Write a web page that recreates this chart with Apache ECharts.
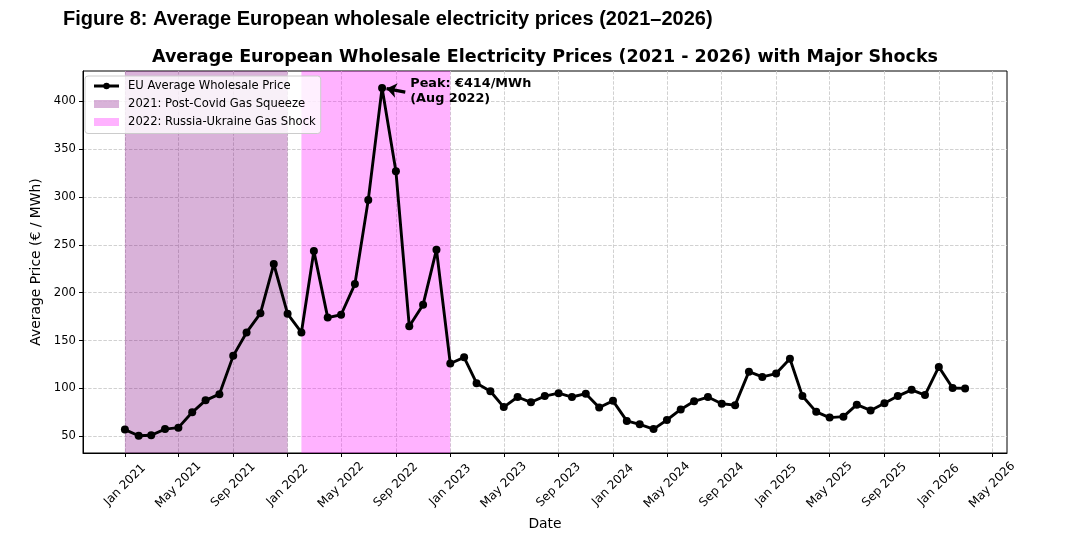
<!DOCTYPE html>
<html>
<head>
<meta charset="utf-8">
<title>Average European wholesale electricity prices</title>
<script src="https://cdn.jsdelivr.net/npm/echarts@6/dist/echarts.min.js"></script>
<style>
  html, body { margin: 0; padding: 0; background: #fff; }
  #chart { width: 1077px; height: 540px; }
</style>
</head>
<body>
<div id="chart"></div>
<script>
// monthly dates, first of month
var months = [
    '2021-01-01', '2021-02-01', '2021-03-01', '2021-04-01', '2021-05-01', '2021-06-01',
    '2021-07-01', '2021-08-01', '2021-09-01', '2021-10-01', '2021-11-01', '2021-12-01',
    '2022-01-01', '2022-02-01', '2022-03-01', '2022-04-01', '2022-05-01', '2022-06-01',
    '2022-07-01', '2022-08-01', '2022-09-01', '2022-10-01', '2022-11-01', '2022-12-01',
    '2023-01-01', '2023-02-01', '2023-03-01', '2023-04-01', '2023-05-01', '2023-06-01',
    '2023-07-01', '2023-08-01', '2023-09-01', '2023-10-01', '2023-11-01', '2023-12-01',
    '2024-01-01', '2024-02-01', '2024-03-01', '2024-04-01', '2024-05-01', '2024-06-01',
    '2024-07-01', '2024-08-01', '2024-09-01', '2024-10-01', '2024-11-01', '2024-12-01',
    '2025-01-01', '2025-02-01', '2025-03-01', '2025-04-01', '2025-05-01', '2025-06-01',
    '2025-07-01', '2025-08-01', '2025-09-01', '2025-10-01', '2025-11-01', '2025-12-01',
    '2026-01-01', '2026-02-01', '2026-03-01'
];

// EUR / MWh
var prices = [
    57, 50.5, 51, 57.5, 59, 75, 87.5, 94, 134, 158.5, 178.5, 230,
    178, 158.5, 243.5, 174, 177, 209, 297, 414, 327, 165, 187.5, 245,
    126, 132.5, 105.5, 97, 80.5, 91, 85.5, 92, 95, 91, 94.5, 80,
    87, 66, 62.5, 57.5, 67, 78, 86.5, 91, 84, 82.5, 117.5, 112,
    115.5, 131, 92, 75.5, 69.5, 70.5, 83, 77, 84.5, 92, 98.5, 93,
    122.5, 100.5, 100
];

var xTickDates = [
    '2021-01-01', '2021-05-01', '2021-09-01', '2022-01-01', '2022-05-01', '2022-09-01',
    '2023-01-01', '2023-05-01', '2023-09-01', '2024-01-01', '2024-05-01', '2024-09-01',
    '2025-01-01', '2025-05-01', '2025-09-01', '2026-01-01', '2026-05-01'
];
var xTickLabels = [
    'Jan 2021', 'May 2021', 'Sep 2021', 'Jan 2022', 'May 2022', 'Sep 2022',
    'Jan 2023', 'May 2023', 'Sep 2023', 'Jan 2024', 'May 2024', 'Sep 2024',
    'Jan 2025', 'May 2025', 'Sep 2025', 'Jan 2026', 'May 2026'
];
var yTicks = [50, 100, 150, 200, 250, 300, 350, 400];

var shockNames = ['2021: Post-Covid Gas Squeeze', '2022: Russia-Ukraine Gas Shock'];
var shockStart = ['2021-01-01', '2022-02-01'];
var shockEnd = ['2022-01-01', '2023-01-01'];
var shockColors = ['rgba(128,0,128,0.3)', 'rgba(255,0,255,0.3)'];
var monthNames = ['Jan', 'Feb', 'Mar', 'Apr', 'May', 'Jun', 'Jul', 'Aug', 'Sep', 'Oct', 'Nov', 'Dec'];

var lineName = 'EU Average Wholesale Price';
var font = 'DejaVu Sans';

var toTime = function (s) {
    return echarts.number.parseDate(s).getTime();
};
var xTickTimes = xTickDates.map(toTime);

// peak for the annotation
var peakIdx = 0;
for (var i = 1; i < prices.length; i++) {
    if (prices[i] > prices[peakIdx]) peakIdx = i;
}
var peakText = 'Peak: €' + prices[peakIdx] + '/MWh\n(' +
    monthNames[+months[peakIdx].substr(5, 2) - 1] + ' ' + months[peakIdx].substr(0, 4) + ')';

var chart = echarts.init(document.getElementById('chart'), null, { renderer: 'canvas' });

var series = [];
series.push({
    name: lineName,
    type: 'line',
    data: months.map(function (m, i) { return [toTime(m), prices[i]]; }),
    symbol: 'circle',
    symbolSize: 8,
    itemStyle: { color: '#000' },
    lineStyle: { color: '#000', width: 2.9 },
    z: 5,
    animation: false,
    markLine: {
        silent: true,
        animation: false,
        lineStyle: { color: '#000', width: 3.2, type: 'solid' },
        label: { show: false },
        symbolSize: [11, 10],
        data: [[
            { coord: [toTime('2022-09-22'), 409.7], symbol: 'none' },
            { coord: [toTime('2022-08-11'), 413.3], symbol: 'arrow' }
        ]]
    },
    markPoint: {
        silent: true,
        animation: false,
        symbol: 'circle',
        symbolSize: 0,
        data: [{ coord: [toTime('2022-09-22'), 411] }],
        label: {
            show: true,
            position: 'right',
            distance: 5,
            formatter: peakText,
            fontFamily: font,
            fontWeight: 'bold',
            fontSize: 12.8,
            lineHeight: 15,
            color: '#000',
            align: 'left'
        }
    }
});
for (var k = 0; k < shockNames.length; k++) {
    series.push({
        name: shockNames[k],
        type: 'line',
        data: [],
        itemStyle: { color: shockColors[k] },
        z: 1,
        animation: false,
        markArea: {
            silent: true,
            itemStyle: { color: shockColors[k] },
            data: [[{ xAxis: toTime(shockStart[k]) }, { xAxis: toTime(shockEnd[k]) }]]
        }
    });
}

var option = {
    backgroundColor: '#fff',
    animation: false,
    title: [{
        text: 'Figure 8: Average European wholesale electricity prices (2021–2026)',
        left: 63,
        top: 9,
        padding: 0,
        textStyle: { fontFamily: 'Liberation Sans', fontWeight: 'bold', fontSize: 20, color: '#000' }
    }, {
        text: 'Average European Wholesale Electricity Prices (2021 - 2026) with Major Shocks',
        left: 545,
        textAlign: 'center',
        top: 48,
        padding: 0,
        textStyle: { fontFamily: font, fontWeight: 'bold', fontSize: 17.5, color: '#000' }
    }],
    legend: {
        orient: 'vertical',
        left: 85,
        top: 76,
        padding: [3, 5, 4.5, 7.5],
        itemGap: 4,
        itemWidth: 25,
        itemHeight: 8,
        backgroundColor: 'rgba(255,255,255,0.8)',
        borderColor: '#cccccc',
        borderWidth: 1,
        borderRadius: 3,
        textStyle: { fontFamily: font, fontSize: 11.6, color: '#000', lineHeight: 14, padding: [0, 0, 0, 4] },
        data: [
            { name: lineName, lineStyle: { width: 3 } },
            { name: shockNames[0], icon: 'rect', itemStyle: { color: shockColors[0], borderColor: shockColors[0] } },
            { name: shockNames[1], icon: 'rect', itemStyle: { color: shockColors[1], borderColor: shockColors[1] } }
        ],
        selectedMode: false,
        z: 10
    },
    grid: {
        left: 83,
        top: 71,
        right: 70,
        bottom: 87,
        show: true,
        borderColor: '#000',
        borderWidth: 1,
        containLabel: false
    },
    xAxis: {
        type: 'value',
        min: toTime('2020-09-29'),
        max: toTime('2026-06-03'),
        name: 'Date',
        nameLocation: 'middle',
        nameGap: 60,
        nameTextStyle: { fontFamily: font, fontSize: 13.9, color: '#000' },
        axisLine: { show: true, onZero: false, lineStyle: { color: '#000', width: 1 } },
        axisTick: { show: true, length: 4, lineStyle: { color: '#000' }, customValues: xTickTimes },
        axisLabel: {
            customValues: xTickTimes,
            rotate: 45,
            align: 'center',
            verticalAlign: 'middle',
            margin: 32,
            fontFamily: font,
            fontSize: 12,
            color: '#000',
            formatter: function (val) {
                var i = xTickTimes.indexOf(val);
                return i >= 0 ? xTickLabels[i] : '';
            }
        },
        splitLine: { show: true, lineStyle: { color: '#cccccc', width: 0.9, type: [3.5, 1.6] } }
    },
    yAxis: {
        type: 'value',
        min: 32.5,
        max: 431.7,
        name: 'Average Price (€ / MWh)',
        nameLocation: 'middle',
        nameGap: 28,
        nameTextStyle: { fontFamily: font, fontSize: 13.9, color: '#000' },
        axisLine: { show: true, lineStyle: { color: '#000', width: 1 } },
        axisTick: { show: true, length: 4, lineStyle: { color: '#000' }, customValues: yTicks },
        axisLabel: {
            customValues: yTicks,
            margin: 7,
            fontFamily: font,
            fontSize: 11.6,
            color: '#000'
        },
        splitLine: { show: true, lineStyle: { color: '#cccccc', width: 0.9, type: [3.5, 1.6] } }
    },
    series: series
};

chart.setOption(option);
</script>
</body>
</html>
